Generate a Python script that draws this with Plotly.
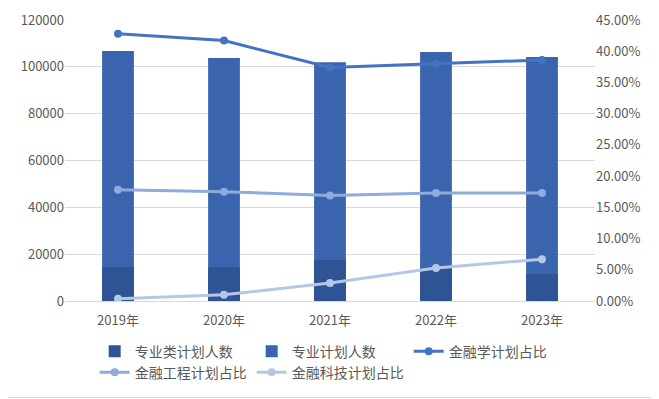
import plotly.graph_objects as go

years = ["2019年", "2020年", "2021年", "2022年", "2023年"]
zy_lei = [14500, 14500, 17500, 14000, 11500]          # 专业类计划人数
zy = [106800, 103800, 102000, 106300, 104200]          # 专业计划人数
jrx = [0.428, 0.417, 0.374, 0.380, 0.386]              # 金融学计划占比
jrgc = [0.178, 0.175, 0.169, 0.173, 0.173]             # 金融工程计划占比
jrkj = [0.0037, 0.010, 0.029, 0.053, 0.067]            # 金融科技计划占比

FONT = "Noto Sans CJK SC"
GRAY = "#595959"

fig = go.Figure()
fig.add_trace(go.Bar(x=years, y=zy, name="专业计划人数", marker_color="#3A64AE",
                     marker_line_width=0, width=0.3, legendrank=2))
fig.add_trace(go.Bar(x=years, y=zy_lei, name="专业类计划人数", marker_color="#2F5495",
                     marker_line_width=0, width=0.3, legendrank=1))
fig.add_trace(go.Scatter(x=years, y=jrx, name="金融学计划占比", yaxis="y2",
                         mode="lines+markers", line=dict(color="#4472C4", width=3),
                         marker=dict(size=8, color="#4472C4"), legendrank=3))
fig.add_trace(go.Scatter(x=years, y=jrgc, name="金融工程计划占比", yaxis="y2",
                         mode="lines+markers", line=dict(color="#8FAADC", width=3),
                         marker=dict(size=8, color="#8FAADC"), legendrank=4))
fig.add_trace(go.Scatter(x=years, y=jrkj, name="金融科技计划占比", yaxis="y2",
                         mode="lines+markers", line=dict(color="#B4C7E7", width=3),
                         marker=dict(size=8, color="#B4C7E7"), legendrank=5))

# the page body adds an 8px offset, so the figure is sized / placed accordingly
W, H = 651, 391
ml, mr, mt, mb = 57, 64, 12, 98
pw, ph = W - ml - mr, H - mt - mb

fig.update_layout(
    width=W, height=H,
    margin=dict(l=ml, r=mr, t=mt, b=mb, autoexpand=False),
    barmode="overlay",
    paper_bgcolor="white", plot_bgcolor="white",
    font=dict(family=FONT, size=13, color=GRAY),
    xaxis=dict(showgrid=False, showline=True, linecolor="#D9D9D9", linewidth=1,
               ticks="", automargin=False, ticklabelstandoff=7,
               tickfont=dict(size=13, color=GRAY)),
    yaxis=dict(range=[0, 120000], dtick=20000, showgrid=True, gridcolor="#D9D9D9",
               gridwidth=1, zeroline=False, tickformat="d", ticks="", automargin=False,
               tickfont=dict(size=13, color=GRAY)),
    yaxis2=dict(range=[0, 0.45], dtick=0.05, overlaying="y", side="right",
                showgrid=False, zeroline=False, tickformat=".2%", ticks="", automargin=False,
                tickfont=dict(size=13, color=GRAY)),
    legend=dict(orientation="h", x=0.056, xanchor="left", y=-0.123, yanchor="top",
                entrywidth=112, entrywidthmode="pixels", traceorder="normal",
                font=dict(size=14, color=GRAY), bgcolor="rgba(0,0,0,0)"),
    shapes=[
        dict(type="line", xref="paper", yref="paper",
             x0=1 + (mr - 1.5) / pw, x1=1 + (mr - 1.5) / pw,
             y0=-(mb - 1.5) / ph, y1=1 + mt / ph,
             line=dict(color="#D9D9D9", width=1), layer="below"),
        dict(type="line", xref="paper", yref="paper",
             x0=-ml / pw, x1=1 + (mr - 1.5) / pw,
             y0=-(mb - 1.5) / ph, y1=-(mb - 1.5) / ph,
             line=dict(color="#D9D9D9", width=1), layer="below"),
    ],
)

fig.write_html("out.html")
